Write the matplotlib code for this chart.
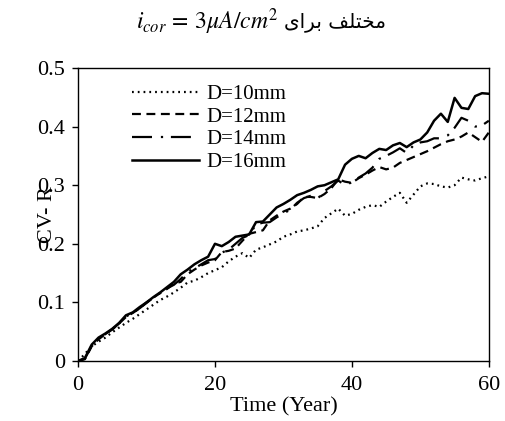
import matplotlib
matplotlib.use("Agg")
import matplotlib.pyplot as plt

# -----------------------------------
# DATA
# -----------------------------------

years = list(range(0, 61))

cv_d10 = [
    0.0, 0.012, 0.025, 0.033, 0.040, 0.049, 0.057, 0.065, 0.072, 0.080,
    0.088, 0.096, 0.104, 0.110, 0.117, 0.125, 0.134, 0.137, 0.143, 0.150,
    0.155, 0.160, 0.170, 0.178, 0.184, 0.176, 0.190, 0.194, 0.199, 0.204,
    0.212, 0.216, 0.221, 0.223, 0.226, 0.230, 0.244, 0.252, 0.260, 0.248,
    0.251, 0.258, 0.263, 0.266, 0.263, 0.272, 0.280, 0.287, 0.270, 0.284,
    0.298, 0.303, 0.302, 0.298, 0.296, 0.300, 0.313, 0.310, 0.308, 0.312,
    0.315,
]

cv_d12 = [
    0.0, 0.003, 0.025, 0.037, 0.046, 0.054, 0.064, 0.075, 0.082, 0.090,
    0.100, 0.108, 0.116, 0.123, 0.132, 0.135, 0.148, 0.156, 0.163, 0.168,
    0.172, 0.186, 0.188, 0.192, 0.205, 0.217, 0.220, 0.223, 0.240, 0.248,
    0.255, 0.260, 0.268, 0.280, 0.280, 0.278, 0.285, 0.295, 0.310, 0.306,
    0.304, 0.312, 0.318, 0.325, 0.331, 0.327, 0.330, 0.338, 0.343, 0.348,
    0.353, 0.358, 0.364, 0.370, 0.375, 0.378, 0.383, 0.390, 0.382, 0.374,
    0.390,
]

cv_d14 = [
    0.0, 0.004, 0.026, 0.038, 0.046, 0.054, 0.064, 0.076, 0.082, 0.090,
    0.099, 0.108, 0.116, 0.124, 0.130, 0.140, 0.152, 0.158, 0.165, 0.172,
    0.174, 0.185, 0.190, 0.200, 0.210, 0.215, 0.233, 0.236, 0.237, 0.245,
    0.252, 0.258, 0.270, 0.278, 0.282, 0.277, 0.290, 0.298, 0.308, 0.300,
    0.305, 0.313, 0.320, 0.330, 0.345, 0.350, 0.356, 0.363, 0.355, 0.368,
    0.373, 0.375, 0.380, 0.380, 0.385, 0.398, 0.415, 0.410, 0.400, 0.402,
    0.410,
]

cv_d16 = [
    0.0, 0.005, 0.028, 0.040, 0.047, 0.055, 0.065, 0.078, 0.083, 0.092,
    0.100, 0.109, 0.117, 0.126, 0.135, 0.148, 0.156, 0.165, 0.172, 0.178,
    0.200, 0.196, 0.203, 0.212, 0.214, 0.216, 0.237, 0.238, 0.250, 0.262,
    0.268, 0.275, 0.283, 0.287, 0.292, 0.298, 0.300, 0.305, 0.310, 0.335,
    0.345, 0.350, 0.346, 0.355, 0.362, 0.360, 0.368, 0.372, 0.365, 0.373,
    0.378, 0.390, 0.410, 0.422, 0.408, 0.449, 0.432, 0.430, 0.452, 0.457,
    0.456,
]

labels = ["D=10mm", "D=12mm", "D=14mm", "D=16mm"]
x_ticks = [0, 20, 40, 60]
y_ticks = [0, 0.1, 0.2, 0.3, 0.4, 0.5]
y_tick_labels = ["0", "0.1", "0.2", "0.3", "0.4", "0.5"]

# Persian title words, pre-shaped in visual (left-to-right) order
title_fa = "\uFEEF\uFE8D\uFEAE\uFE91 \uFED2\uFEE0\uFE98\uFEA8\uFEE3"

# -----------------------------------
# PLOT
# -----------------------------------

plt.rcParams["font.family"] = ["Liberation Serif", "DejaVu Serif"]
plt.rcParams["mathtext.fontset"] = "stix"

fig = plt.figure(figsize=(5.05, 4.21), dpi=100)
ax = fig.add_axes([0.1545, 0.1425, 0.8135, 0.696])

ax.plot(years, cv_d10, color="black", lw=1.6, linestyle=(0, (0.8, 1.8)),
        label=labels[0])
ax.plot(years, cv_d12, color="black", lw=1.6, linestyle=(0, (4, 2.5)),
        label=labels[1])
ax.plot(years, cv_d14, color="black", lw=1.6, linestyle=(0, (9, 4, 1, 3.5)),
        label=labels[2])
ax.plot(years, cv_d16, color="black", lw=1.8, linestyle="-",
        label=labels[3])

ax.set_xlim(0, 60)
ax.set_ylim(0, 0.5)
ax.set_xticks(x_ticks)
ax.set_yticks(y_ticks)
ax.set_yticklabels(y_tick_labels)

ax.tick_params(direction="out", length=4.5, width=1, labelsize=16)
ax.tick_params(axis="x", pad=6)
ax.tick_params(axis="y", pad=5)
for spine in ax.spines.values():
    spine.set_linewidth(1)

ax.set_xlabel("Time (Year)", fontsize=16)
ax.xaxis.set_label_coords(0.5, -0.122)
ax.set_ylabel("CV- R", fontsize=16)
ax.yaxis.set_label_coords(-0.052, 0.5)

ax.legend(
    loc="upper left",
    bbox_to_anchor=(0.131, 0.944),
    frameon=False,
    fontsize=15,
    handlelength=3.2,
    handletextpad=0.4,
    labelspacing=0.15,
    borderpad=0,
    borderaxespad=0,
)

fig.text(0.552, 0.948, r"$i_{cor}\,=\,3\mu A/cm^2$", fontsize=17,
         ha="right", va="center")
fig.text(0.562, 0.948, title_fa, fontsize=14.5, ha="left", va="center",
         family=["DejaVu Sans"])

fig.savefig("out.png", dpi=100)
